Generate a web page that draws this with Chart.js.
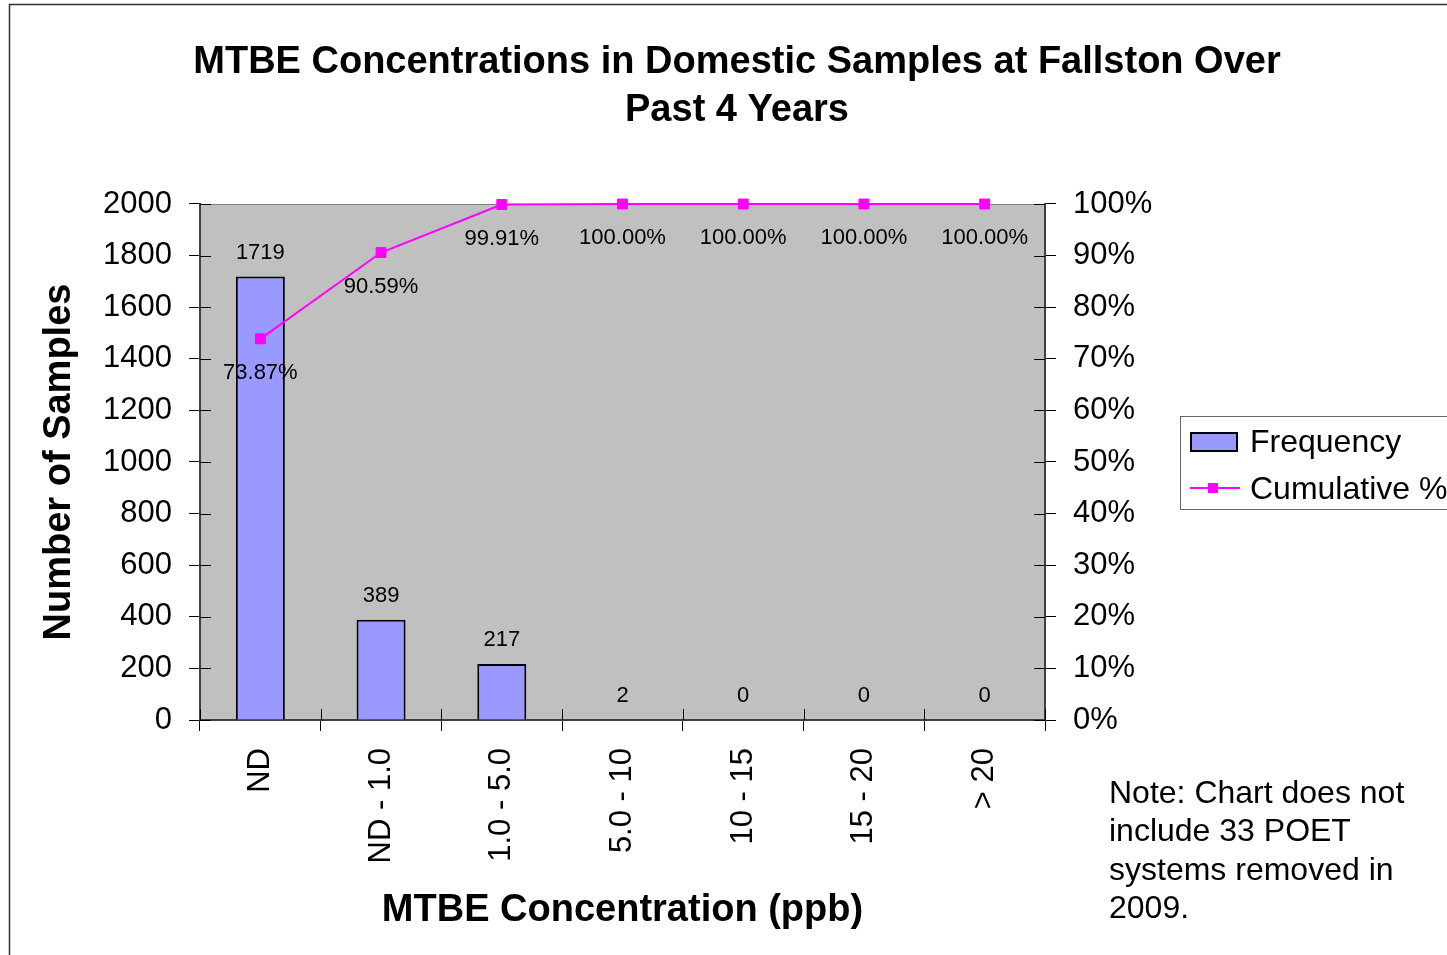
<!DOCTYPE html>
<html>
<head>
<meta charset="utf-8">
<script src="https://cdn.jsdelivr.net/npm/chart.js@4"></script>
<style>
  html, body { margin: 0; padding: 0; background: #fff; }
  canvas { display: block; }
</style>
</head>
<body>
<canvas id="paretoChart" width="1447" height="955"></canvas>
<script>
// Data
const categories = ['ND', 'ND - 1.0', '1.0 - 5.0', '5.0 - 10', '10 - 15', '15 - 20', '> 20'];
const frequency = [1719, 389, 217, 2, 0, 0, 0];
const cumulativePct = [73.87, 90.59, 99.91, 100.00, 100.00, 100.00, 100.00];
const titleLines = ['MTBE Concentrations in Domestic Samples at Fallston Over', 'Past 4 Years'];
const noteLines = ['Note: Chart does not', 'include 33 POET', 'systems removed in', '2009.'];

const FONT = "'Liberation Sans', Arial, sans-serif";
const BAR_COLOR = '#9999FF';
const LINE_COLOR = '#FF00FF';

// Grey plot area + outer frame
const plotBackground = {
    id: 'plotBackground',
    beforeDraw(chart) {
        const {ctx, chartArea: a} = chart;
        ctx.save();
        ctx.fillStyle = '#fff';
        ctx.fillRect(0, 0, chart.width, chart.height);
        ctx.strokeStyle = '#333';
        ctx.lineWidth = 1.5;
        ctx.strokeRect(9.5, 4.5, 3000, 3000);
        ctx.fillStyle = '#C0C0C0';
        ctx.fillRect(a.left, a.top, a.right - a.left, a.bottom - a.top);
        ctx.strokeStyle = '#808080';
        ctx.lineWidth = 1;
        ctx.strokeRect(a.left, a.top + 0.5, a.right - a.left, a.bottom - a.top);
        ctx.restore();
    }
};

// Tick marks that cross the axes (inner half)
const innerTicks = {
    id: 'innerTicks',
    afterDraw(chart) {
        const {ctx, scales} = chart;
        const len = 11;
        ctx.save();
        ctx.strokeStyle = '#000';
        ctx.lineWidth = 1;
        ctx.beginPath();
        scales.y.ticks.forEach((t, i) => {
            const py = Math.round(scales.y.getPixelForTick(i)) + 0.5;
            ctx.moveTo(scales.y.right, py);
            ctx.lineTo(scales.y.right + len, py);
        });
        scales.y1.ticks.forEach((t, i) => {
            const py = Math.round(scales.y1.getPixelForTick(i)) + 0.5;
            ctx.moveTo(scales.y1.left - len, py);
            ctx.lineTo(scales.y1.left, py);
        });
        const x = scales.x;
        for (let i = 0; i <= categories.length; i++) {
            const px = Math.round(x.left + (x.right - x.left) * i / categories.length) + 0.5;
            ctx.moveTo(px, x.top - len);
            ctx.lineTo(px, x.top);
        }
        ctx.stroke();
        ctx.restore();
    }
};

// Value labels for bars and cumulative points
const valueLabels = {
    id: 'valueLabels',
    afterDatasetsDraw(chart) {
        const {ctx} = chart;
        ctx.save();
        ctx.font = '22px ' + FONT;
        ctx.fillStyle = '#000';
        ctx.textAlign = 'center';
        ctx.textBaseline = 'middle';
        chart.data.datasets.forEach((ds, di) => {
            const meta = chart.getDatasetMeta(di);
            meta.data.forEach((el, i) => {
                if (ds.type === 'bar') {
                    ctx.fillText(String(ds.data[i]), el.x, el.y - 24);
                } else {
                    ctx.fillText(ds.data[i].toFixed(2) + '%', el.x, el.y + 34);
                }
            });
        });
        ctx.restore();
    }
};

// Legend box and side note
const sideNotes = {
    id: 'sideNotes',
    afterDraw(chart) {
        const {ctx} = chart;
        const [bars, line] = chart.data.datasets;
        ctx.save();
        ctx.fillStyle = '#fff';
        ctx.fillRect(1180, 416, 300, 94);
        ctx.strokeStyle = '#666';
        ctx.lineWidth = 1;
        ctx.strokeRect(1180.5, 416.5, 300, 93);

        ctx.fillStyle = bars.backgroundColor;
        ctx.fillRect(1190, 432, 48, 20);
        ctx.strokeStyle = bars.borderColor;
        ctx.lineWidth = 2;
        ctx.strokeRect(1191, 433, 46, 18);

        ctx.strokeStyle = line.borderColor;
        ctx.lineWidth = 2;
        ctx.beginPath();
        ctx.moveTo(1190, 488);
        ctx.lineTo(1240, 488);
        ctx.stroke();
        ctx.fillStyle = line.borderColor;
        ctx.fillRect(1208, 483, 10, 10);

        ctx.fillStyle = '#000';
        ctx.font = '32px ' + FONT;
        ctx.textAlign = 'left';
        ctx.textBaseline = 'middle';
        ctx.fillText(bars.label, 1250, 443);
        ctx.fillText(line.label, 1250, 490);

        noteLines.forEach((txt, i) => ctx.fillText(txt, 1109, 794 + i * 38.5));
        ctx.restore();
    }
};

const tickFont = {family: FONT, size: 31};
const axisGrid = {drawOnChartArea: false, drawTicks: true, tickLength: 11, color: '#000', lineWidth: 1};
const axisBorder = {color: '#404040', width: 2};

new Chart(document.getElementById('paretoChart').getContext('2d'), {
    data: {
        labels: categories,
        datasets: [
            {
                type: 'bar',
                label: 'Frequency',
                data: frequency,
                yAxisID: 'y',
                backgroundColor: BAR_COLOR,
                borderColor: '#000',
                borderWidth: 2,
                barPercentage: 0.406,
                categoryPercentage: 1,
                order: 2
            },
            {
                type: 'line',
                label: 'Cumulative %',
                data: cumulativePct,
                yAxisID: 'y1',
                borderColor: LINE_COLOR,
                backgroundColor: LINE_COLOR,
                borderWidth: 2,
                pointStyle: 'rect',
                pointRadius: 7,
                pointBorderWidth: 1,
                tension: 0,
                clip: false,
                order: 1
            }
        ]
    },
    options: {
        responsive: false,
        animation: false,
        layout: {padding: {left: 27, right: 0, top: 0, bottom: 0}},
        plugins: {
            legend: {display: false},
            tooltip: {enabled: false},
            title: {
                display: true,
                text: titleLines,
                color: '#000',
                font: {family: FONT, size: 38, weight: 'bold', lineHeight: 1.263},
                padding: {top: 39, bottom: 69}
            }
        },
        scales: {
            x: {
                offset: true,
                grid: Object.assign({offset: true}, axisGrid),
                border: axisBorder,
                ticks: {color: '#000', font: tickFont, minRotation: 90, maxRotation: 90, padding: 17, autoSkip: false},
                title: {
                    display: true,
                    text: 'MTBE Concentration (ppb)',
                    color: '#000',
                    font: {family: FONT, size: 38, weight: 'bold'},
                    padding: {top: 0, bottom: 22}
                },
                afterFit(s) { s.height = 235; }
            },
            y: {
                position: 'left',
                min: 0,
                max: 2000,
                grid: axisGrid,
                border: axisBorder,
                ticks: {stepSize: 200, color: '#000', font: tickFont, padding: 17, callback: v => String(v)},
                title: {
                    display: true,
                    text: 'Number of Samples',
                    color: '#000',
                    font: {family: FONT, size: 38, weight: 'bold'},
                    padding: {top: 10, bottom: 0}
                },
                afterFit(s) { s.width = 173; }
            },
            y1: {
                position: 'right',
                min: 0,
                max: 100,
                grid: axisGrid,
                border: axisBorder,
                ticks: {stepSize: 10, color: '#000', font: tickFont, padding: 17, callback: v => v + '%'},
                afterFit(s) { s.width = 402; }
            }
        }
    },
    plugins: [plotBackground, innerTicks, valueLabels, sideNotes]
});
</script>
</body>
</html>
